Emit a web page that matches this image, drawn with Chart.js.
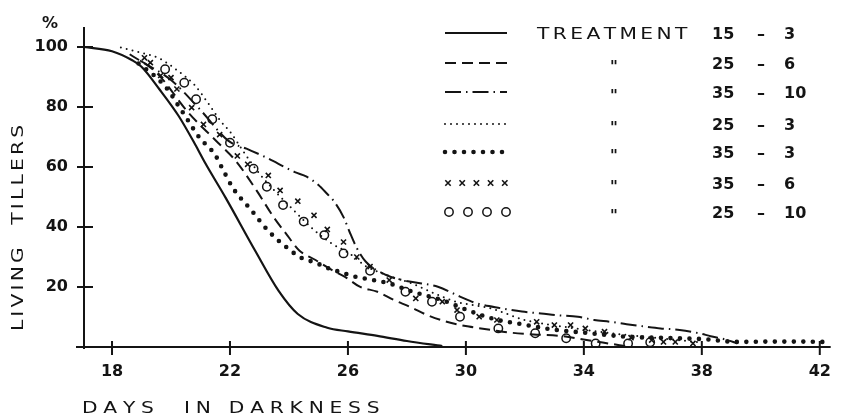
<!DOCTYPE html>
<html>
<head>
<meta charset="utf-8">
<script src="https://cdn.jsdelivr.net/npm/chart.js@4/dist/chart.umd.min.js"></script>
<style>
  html, body { margin: 0; padding: 0; background: #ffffff; }
  #wrap { width: 846px; height: 416px; }
</style>
</head>
<body>
<div id="wrap"><canvas id="c" width="846" height="416"></canvas></div>
<script>
// ---------- DATA ----------
const xTickValues = [18, 22, 26, 30, 34, 38, 42];
const yTickValues = [20, 40, 60, 80, 100];
const treatmentNames = ['15 - 3', '25 - 6', '35 - 10', '25 - 3', '35 - 3', '35 - 6', '25 - 10'];

// 15 - 3 (solid)
const days_15_3 = [17.05, 18.0, 18.7, 19.0, 19.6, 20.26, 20.82, 21.15, 21.85, 22.86, 23.65, 24.3, 25.3, 26.0, 27.0, 28.0, 29.2];
const pct_15_3  = [100, 98.6, 95.5, 93.4, 86, 77, 67.5, 61.5, 49.8, 32, 18.7, 11, 6.4, 5.2, 3.7, 2, 0.3];

// 25 - 6 (dashed)
const days_25_6 = [18.6, 19.5, 20.6, 21.5, 22.2, 22.9, 23.5, 23.9, 24.35, 24.9, 25.45, 25.9, 26.4, 27.0, 27.55, 28.1, 28.7, 29.35, 30.1, 30.85, 31.5, 32.3, 33.2, 34.3, 35.4];
const pct_25_6  = [97.6, 91.5, 78, 69, 62, 52.2, 43, 37.8, 32.2, 29, 25.7, 23.4, 20.1, 18.4, 15.7, 13.4, 10.6, 8.4, 6.8, 5.7, 4.8, 4.2, 3.7, 2, 0.3];

// 35 - 10 (dash-dot)
const days_35_10 = [18.95, 20.0, 21.0, 21.95, 22.56, 23.2, 24.2, 24.6, 25.0, 25.3, 25.5, 25.85, 26.05, 26.3, 26.6, 27.3, 27.85, 28.5, 29.05, 29.8, 30.35, 31.2, 31.9, 32.55, 33.1, 33.8, 34.35, 34.9, 35.45, 36.0, 36.6, 37.25, 37.9, 38.3, 38.8, 39.2];
const pct_35_10  = [95.5, 89, 79, 68.7, 66.1, 63.3, 58.3, 56.8, 54, 51, 48.9, 43.3, 38.5, 33, 28.5, 24, 22.3, 21.2, 20.1, 16.8, 14.6, 12.9, 11.8, 11.2, 10.6, 10.1, 9, 8.4, 7.6, 6.9, 6.2, 5.7, 4.6, 3.6, 2.5, 1.2];

// 25 - 3 (fine dots)
const days_25_3 = [18.3, 19.1, 19.6, 20.2, 20.8, 21.3, 21.7, 22.0, 22.5, 23.0, 23.55, 24.05, 24.85, 25.45, 26.05, 26.6, 27.3, 28.1, 29.6, 30.9, 32.0, 33.5, 35.0, 36.5, 38.0];
const pct_25_3  = [99.8, 97.8, 96.2, 92.3, 87.3, 80.7, 75.1, 71.8, 64.5, 57.8, 51.7, 46.7, 39.0, 34.5, 31.2, 27.0, 24.0, 21.4, 15.3, 12.7, 9.0, 6.5, 4.5, 3.0, 1.5];

// 35 - 3 (heavy dots)
const days_35_3 = [18.9, 19.45, 19.9, 20.2, 20.5, 20.95, 21.5, 21.7, 22.1, 22.7, 23.3, 24.0, 24.4, 24.9, 25.35, 25.8, 26.3, 26.7, 27.4, 28.2, 29.2, 30.1, 31.0, 31.9, 32.9, 34.2, 35.5, 36.8, 38.1, 39.2, 40.3, 41.4, 42.1];
const pct_35_3  = [94.5, 90.3, 85.7, 81.2, 76.7, 70, 64, 60.3, 53, 45.9, 38.7, 32.6, 29.8, 28.1, 26.2, 24.8, 23.3, 22.6, 21.2, 18.4, 15.6, 12.1, 9.2, 7.6, 5.9, 4.6, 3.4, 3, 2.6, 1.7, 1.8, 1.8, 1.7];

// 35 - 6 (crosses)
const days_35_6 = [19.1, 19.3, 19.65, 20.0, 20.2, 20.7, 21.1, 21.65, 22.25, 22.6, 23.3, 23.7, 24.3, 24.85, 25.3, 25.85, 26.3, 26.75, 27.4, 28.3, 29.2, 29.7, 30.45, 31.05, 32.4, 33.0, 33.55, 34.05, 34.7, 35.6, 36.3, 36.7, 37.1, 37.7];
const pct_35_6  = [96.4, 94.8, 90.5, 89.8, 86, 79.8, 74.2, 70.8, 63.7, 60.9, 57.2, 52.2, 48.6, 43.9, 39.2, 35, 30, 26.8, 22.3, 16.2, 15.1, 12.3, 10.1, 9, 8.4, 7.3, 7.3, 6.2, 5.1, 3.1, 2.3, 1.7, 1.7, 1.2];

// 25 - 10 (open circles)
const days_25_10 = [19.8, 20.45, 20.85, 21.4, 22.0, 22.8, 23.25, 23.8, 24.5, 25.2, 25.85, 26.75, 27.95, 28.85, 29.8, 31.1, 32.35, 33.4, 34.4, 35.5, 36.25];
const pct_25_10  = [92.6, 88.1, 82.6, 75.9, 68.1, 59.4, 53.4, 47.3, 41.8, 37.3, 31.2, 25.4, 18.4, 15.1, 10.1, 6.2, 4.6, 2.9, 1.2, 1.2, 1.6];

// ---------- BUILD ----------
const INK = '#141414';
const FONT = '"DejaVu Sans", sans-serif';
const pts = (xs, ys) => xs.map((x, i) => ({ x: x, y: ys[i] }));

function lineSet(name, xs, ys, extra) {
  return Object.assign({
    label: 'TREATMENT ' + name,
    data: pts(xs, ys),
    borderColor: INK,
    backgroundColor: INK,
    borderWidth: 2,
    pointRadius: 0,
    fill: false,
    cubicInterpolationMode: 'monotone',
    kind: 'line'
  }, extra);
}

const datasets = [
  lineSet(treatmentNames[0], days_15_3, pct_15_3, { borderWidth: 2.2 }),
  lineSet(treatmentNames[1], days_25_6, pct_25_6, { borderDash: [11, 6] }),
  lineSet(treatmentNames[2], days_35_10, pct_35_10, { borderDash: [16, 5, 1.5, 5] }),
  lineSet(treatmentNames[3], days_25_3, pct_25_3, { borderDash: [0, 6], borderCapStyle: 'round', borderWidth: 2 }),
  lineSet(treatmentNames[4], days_35_3, pct_35_3, { borderDash: [0, 9.5], borderCapStyle: 'round', borderWidth: 4.6 }),
  {
    label: 'TREATMENT ' + treatmentNames[5], data: pts(days_35_6, pct_35_6), showLine: false,
    pointStyle: 'crossRot', pointRadius: 3.6, pointBorderWidth: 1.6, pointBorderColor: INK,
    pointBackgroundColor: INK, borderColor: INK, kind: 'cross'
  },
  {
    label: 'TREATMENT ' + treatmentNames[6], data: pts(days_25_10, pct_25_10), showLine: false,
    pointStyle: 'circle', pointRadius: 4.2, pointBorderWidth: 1.5, pointBorderColor: INK,
    pointBackgroundColor: 'rgba(255,255,255,0)', borderColor: INK, kind: 'circle'
  }
];

// stretched, letter-spaced lettering (imitates the wide drafting letters)
const SX = 1.35;
function letteredWidth(ctx, t, s) {
  let w = 0;
  for (const ch of t) w += ctx.measureText(ch).width * SX + s;
  return w - s;
}
function drawLettered(ctx, t, x, y, s) {
  ctx.save();
  ctx.translate(x, y);
  ctx.scale(SX, 1);
  let cx = 0;
  for (const ch of t) { ctx.fillText(ch, cx, 0); cx += ctx.measureText(ch).width + s / SX; }
  ctx.restore();
}

const decorPlugin = {
  id: 'decor',
  afterDraw(chart) {
    const ctx = chart.ctx;
    const { left, right, top, bottom } = chart.chartArea;
    const xs = chart.scales.x, ys = chart.scales.y;
    ctx.save();
    ctx.strokeStyle = INK; ctx.fillStyle = INK; ctx.lineWidth = 2; ctx.lineCap = 'butt';
    ctx.setLineDash([]);
    // axes
    ctx.beginPath();
    ctx.moveTo(left, top); ctx.lineTo(left, bottom + 2);
    ctx.moveTo(left - 8, bottom); ctx.lineTo(right, bottom);
    ctx.stroke();
    // ticks crossing the axes
    ctx.beginPath();
    yTickValues.forEach(v => { const p = ys.getPixelForValue(v); ctx.moveTo(left - 7, p); ctx.lineTo(left + 9, p); });
    xTickValues.forEach(v => { const p = xs.getPixelForValue(v); ctx.moveTo(p, bottom - 6); ctx.lineTo(p, bottom + 8); });
    ctx.stroke();

    // % sign
    ctx.font = 'bold 16px ' + FONT; ctx.textAlign = 'center'; ctx.textBaseline = 'alphabetic';
    ctx.fillText('%', 50, 28);

    // axis titles
    ctx.font = '15px ' + FONT; ctx.textAlign = 'left';
    drawLettered(ctx, 'DAYS  IN DARKNESS', 82, 413, 5.75);
    ctx.save();
    ctx.translate(23, 228);
    ctx.rotate(-Math.PI / 2);
    const yt = 'LIVING  TILLERS';
    const w = letteredWidth(ctx, yt, 3.2);
    drawLettered(ctx, yt, -w / 2, 0, 3.2);
    ctx.restore();

    // legend
    const rowY = [33, 63, 92, 124, 152, 183, 212];
    const x0 = 445, x1 = 507;
    datasets.forEach((ds, i) => {
      const yc = rowY[i];
      ctx.save();
      ctx.strokeStyle = INK; ctx.fillStyle = INK;
      if (ds.kind === 'line') {
        ctx.lineWidth = ds.borderWidth;
        ctx.lineCap = ds.borderCapStyle || 'butt';
        ctx.setLineDash(ds.borderDash || []);
        ctx.beginPath(); ctx.moveTo(x0, yc); ctx.lineTo(x1 + (ds.borderCapStyle ? 1 : 0), yc); ctx.stroke();
      } else if (ds.kind === 'cross') {
        ctx.lineWidth = ds.pointBorderWidth;
        const r = ds.pointRadius * 0.75;
        for (let k = 0; k < 5; k++) {
          const cx = 448 + k * 14.2;
          ctx.beginPath();
          ctx.moveTo(cx - r, yc - r); ctx.lineTo(cx + r, yc + r);
          ctx.moveTo(cx - r, yc + r); ctx.lineTo(cx + r, yc - r);
          ctx.stroke();
        }
      } else if (ds.kind === 'circle') {
        ctx.lineWidth = ds.pointBorderWidth;
        for (let k = 0; k < 4; k++) {
          const cx = 449 + k * 19;
          ctx.beginPath(); ctx.arc(cx, yc, ds.pointRadius, 0, Math.PI * 2); ctx.stroke();
        }
      }
      ctx.restore();
      const parts = treatmentNames[i].split(' - ');
      ctx.textBaseline = 'alphabetic';
      if (i === 0) {
        ctx.font = '15px ' + FONT; ctx.textAlign = 'left';
        drawLettered(ctx, 'TREATMENT', 537, yc + 5.5, 3.4);
      } else {
        ctx.font = 'bold 15px ' + FONT; ctx.textAlign = 'center';
        ctx.fillText('"', 614, yc + 9);
      }
      ctx.font = 'bold 16px ' + FONT; ctx.textAlign = 'left';
      ctx.fillText(parts[0], 712, yc + 6);
      ctx.textAlign = 'center';
      ctx.fillText('\u2013', 761, yc + 6);
      ctx.textAlign = 'left';
      ctx.fillText(parts[1], 784, yc + 6);
    });
    ctx.restore();
  }
};

new Chart(document.getElementById('c'), {
  type: 'line',
  data: { datasets: datasets },
  options: {
    responsive: false,
    animation: false,
    devicePixelRatio: 1,
    events: [],
    layout: { padding: { top: 27, right: 6, left: 0, bottom: 0 } },
    plugins: { legend: { display: false }, tooltip: { enabled: false }, title: { display: false } },
    scales: {
      x: {
        type: 'linear', min: 17.05, max: 42.37,
        grid: { display: false, drawTicks: false },
        border: { display: false },
        afterBuildTicks: (s) => { s.ticks = xTickValues.map(v => ({ value: v })); },
        afterFit: (s) => { s.height = 69; },
        ticks: { color: INK, font: { family: FONT, size: 16, weight: 'bold' }, padding: 15, maxRotation: 0, autoSkip: false }
      },
      y: {
        type: 'linear', min: 0, max: 106.67,
        grid: { display: false, drawTicks: false },
        border: { display: false },
        afterBuildTicks: (s) => { s.ticks = yTickValues.map(v => ({ value: v })); },
        afterFit: (s) => { s.width = 84; },
        ticks: { color: INK, font: { family: FONT, size: 16, weight: 'bold' }, padding: 16, autoSkip: false }
      }
    }
  },
  plugins: [decorPlugin]
});
</script>
</body>
</html>
